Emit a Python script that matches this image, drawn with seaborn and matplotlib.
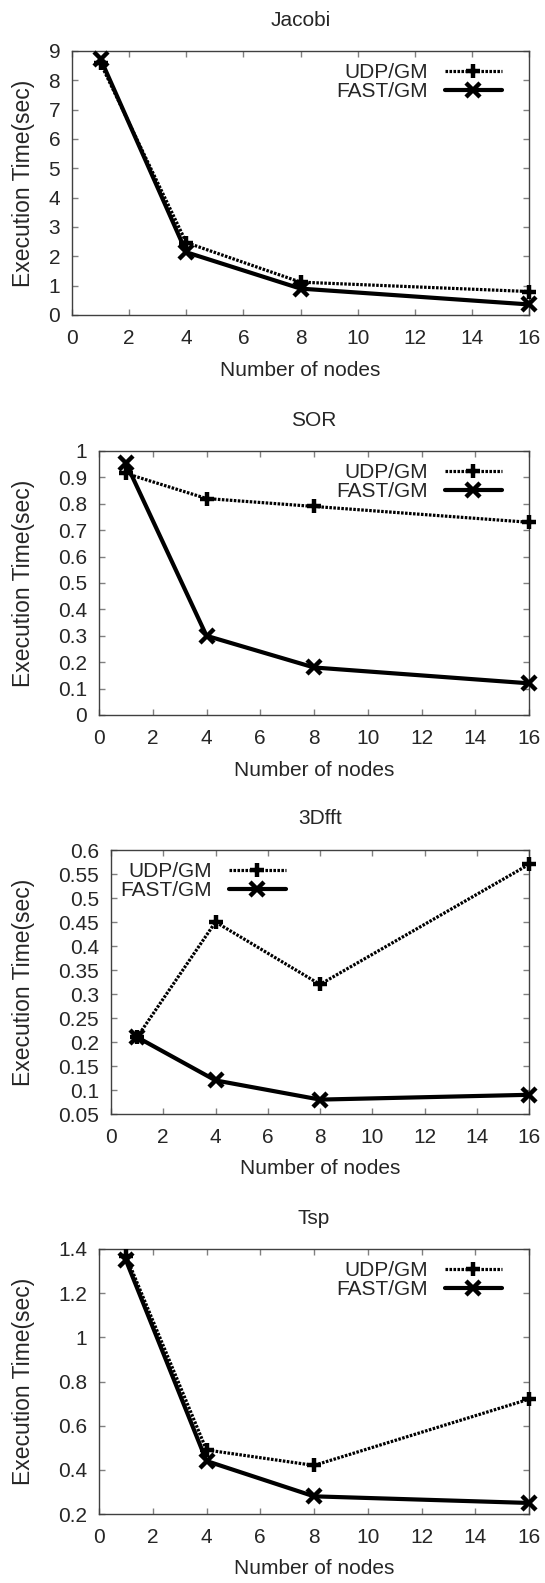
import matplotlib
matplotlib.use("Agg")
import matplotlib.pyplot as plt
import seaborn as sns
import pandas as pd
import numpy as np

sns.set_theme(style="white")
plt.rcParams['font.family'] = ['Liberation Sans', 'DejaVu Sans']

nodes = [1, 4, 8, 16]
titles = ["Jacobi", "SOR", "3Dfft", "Tsp"]
udp_jacobi = [8.58, 2.47, 1.12, 0.80]
fast_jacobi = [8.73, 2.14, 0.90, 0.36]
udp_sor = [0.915, 0.82, 0.79, 0.73]
fast_sor = [0.955, 0.30, 0.18, 0.12]
udp_fft = [0.21, 0.45, 0.32, 0.57]
fast_fft = [0.21, 0.12, 0.08, 0.09]
udp_tsp = [1.37, 0.49, 0.42, 0.72]
fast_tsp = [1.35, 0.44, 0.28, 0.25]
series_names = ["UDP/GM", "FAST/GM"]

xticks = [0, 2, 4, 6, 8, 10, 12, 14, 16]
yticks_list = [
    [0, 1, 2, 3, 4, 5, 6, 7, 8, 9],
    [0, 0.1, 0.2, 0.3, 0.4, 0.5, 0.6, 0.7, 0.8, 0.9, 1],
    [0.05, 0.1, 0.15, 0.2, 0.25, 0.3, 0.35, 0.4, 0.45, 0.5, 0.55, 0.6],
    [0.2, 0.4, 0.6, 0.8, 1, 1.2, 1.4],
]
ytick_labels_list = [
    ["0", "1", "2", "3", "4", "5", "6", "7", "8", "9"],
    ["0", "0.1", "0.2", "0.3", "0.4", "0.5", "0.6", "0.7", "0.8", "0.9", "1"],
    ["0.05", "0.1", "0.15", "0.2", "0.25", "0.3", "0.35", "0.4", "0.45", "0.5", "0.55", "0.6"],
    ["0.2", "0.4", "0.6", "0.8", "1", "1.2", "1.4"],
]
data = [(udp_jacobi, fast_jacobi), (udp_sor, fast_sor), (udp_fft, fast_fft), (udp_tsp, fast_tsp)]

W, H = 545, 1583
fig = plt.figure(figsize=(W / 100, H / 100), dpi=100)

# pixel boxes: left, right, top, bottom
boxes = [(72, 529, 51, 315), (99, 529, 451, 715), (111, 529, 850, 1114), (99, 529, 1249, 1514)]
title_y = [20, 420, 818, 1218]

fs = 15
for i in range(4):
    l, r, t, b = boxes[i]
    w, h = r - l, b - t
    ax = fig.add_axes([l / W, 1 - b / H, w / W, h / H])
    udp, fast = data[i]
    df = pd.DataFrame({"nodes": nodes * 2,
                       "time": list(udp) + list(fast),
                       "series": [series_names[0]] * 4 + [series_names[1]] * 4})
    d1 = df[df.series == series_names[0]]
    d2 = df[df.series == series_names[1]]
    sns.lineplot(data=d1, x="nodes", y="time", ax=ax, color="black", lw=2.3,
                 linestyle=(0, (0.8, 0.45)), marker="+", markersize=10,
                 markeredgewidth=3.2, markeredgecolor="black", markerfacecolor="black",
                 label=series_names[0], clip_on=False, zorder=3)
    sns.lineplot(data=d2, x="nodes", y="time", ax=ax, color="black", lw=3.0,
                 linestyle="-", marker="x", markersize=10.5, markeredgewidth=3.2,
                 markeredgecolor="black", markerfacecolor="black",
                 label=series_names[1], clip_on=False, zorder=3)
    yt = yticks_list[i]
    ax.set_xlim(0, 16)
    ax.set_ylim(yt[0], yt[-1])
    ax.set_xticks(xticks)
    ax.set_xticklabels([str(x) for x in xticks], fontsize=fs)
    ax.set_yticks(yt)
    ax.set_yticklabels(ytick_labels_list[i], fontsize=fs)
    ax.tick_params(direction="in", length=4, width=1, color="#808080",
                   top=True, right=True, bottom=True, left=True)
    ax.tick_params(axis="x", pad=10)
    ax.tick_params(axis="y", pad=8.5)
    for sp in ax.spines.values():
        sp.set_color("#404040")
        sp.set_linewidth(1.0)
    ax.set_xlabel("Number of nodes", fontsize=fs)
    ax.xaxis.set_label_coords(0.5, -55 / h)
    ax.xaxis.label.set_va("center")
    ax.set_ylabel("Execution Time(sec)", fontsize=16.5)
    ax.yaxis.set_label_coords((24 - l) / w, 0.5)
    ax.yaxis.label.set_va("center")
    fig.text((l + r) / 2 / W, 1 - title_y[i] / H, titles[i], ha="center", va="center", fontsize=fs)
    top_anchor = 1.0 - 12 / h
    if i == 2:
        leg = ax.legend(loc="upper left", bbox_to_anchor=((120 - l) / w, top_anchor),
                        frameon=False, markerfirst=False, fontsize=fs,
                        handlelength=2.74, handletextpad=0.82, labelspacing=0.0,
                        borderaxespad=0.0, borderpad=0.0)
    else:
        leg = ax.legend(loc="upper right", bbox_to_anchor=((502 - l) / w, top_anchor),
                        frameon=False, markerfirst=False, fontsize=fs,
                        handlelength=2.74, handletextpad=0.82, labelspacing=0.0,
                        borderaxespad=0.0, borderpad=0.0)
    leg._legend_box.align = "right"
    for txt in leg.get_texts():
        txt.set_ha("right")

fig.savefig("out.png", dpi=100)
